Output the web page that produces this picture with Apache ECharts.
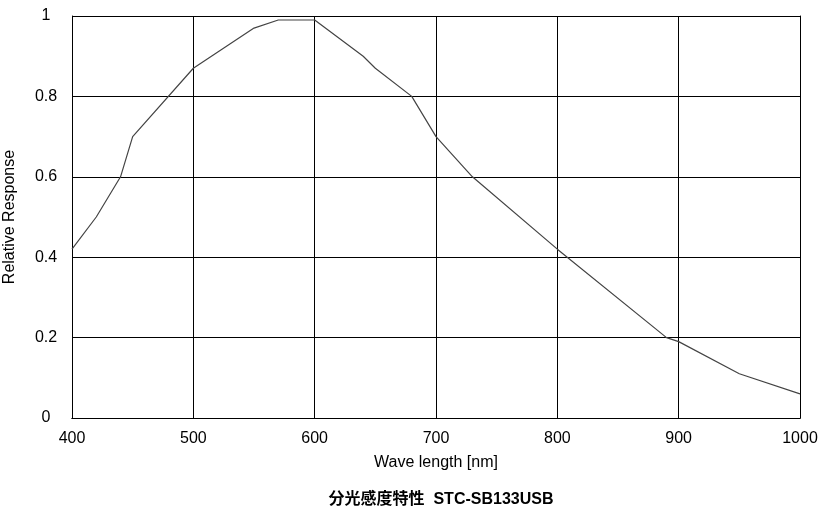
<!DOCTYPE html>
<html><head><meta charset="utf-8">
<script src="https://cdn.jsdelivr.net/npm/echarts@6/dist/echarts.min.js"></script>
<style>html,body{margin:0;padding:0;background:#fff}#c{width:831px;height:514px}</style>
</head><body><div id="c"></div>
<script>
const wavelengths = [400, 420, 440, 450, 500, 550, 570, 600, 640, 650, 680, 700, 730, 800, 890, 900, 950, 1000];
const response    = [0.42, 0.50, 0.60, 0.70, 0.87, 0.97, 0.99, 0.99, 0.90, 0.87, 0.80, 0.70, 0.60, 0.42, 0.20, 0.19, 0.11, 0.06];
const xTicks = [400, 500, 600, 700, 800, 900, 1000];
const yTicks = [0, 0.2, 0.4, 0.6, 0.8, 1];
const titleText = '分光感度特性  STC-SB133USB';
const xName = 'Wave length [nm]';
const yName = 'Relative Response';

const chart = echarts.init(document.getElementById('c'));
const font = 'Liberation Sans, Arial, sans-serif';
const boxAxis = { type: 'value', axisLine: { show: true, lineStyle: { color: '#000', width: 1 } },
  axisLabel: { show: false }, axisTick: { show: false }, splitLine: { show: false } };
chart.setOption({
  animation: false,
  backgroundColor: '#fff',
  title: {
    text: titleText, left: 436, top: 487, textAlign: 'center',
    textStyle: { fontFamily: 'Liberation Sans, Noto Sans CJK JP, sans-serif', fontSize: 16, fontWeight: 'bold', color: '#000' }
  },
  grid: { left: 72, right: 31, top: 16, bottom: 96, show: false, outerBoundsMode: 'none', containLabel: false },
  xAxis: [{
    type: 'value', min: xTicks[0], max: xTicks[xTicks.length - 1], interval: 100,
    name: xName, nameLocation: 'middle', nameGap: 37,
    nameTextStyle: { fontFamily: font, fontSize: 16, color: '#000' },
    axisLine: { show: true, lineStyle: { color: '#000', width: 1 } },
    axisTick: { show: false },
    axisLabel: { fontFamily: font, fontSize: 16, color: '#000', margin: 13, formatter: v => String(v) },
    splitLine: { show: true, lineStyle: { color: '#000', width: 1 } }
  }, Object.assign({ position: 'top', min: xTicks[0], max: xTicks[xTicks.length - 1] }, boxAxis)],
  yAxis: [{
    type: 'value', min: yTicks[0], max: yTicks[yTicks.length - 1], interval: 0.2,
    name: yName, nameLocation: 'middle', nameGap: 54,
    nameTextStyle: { fontFamily: font, fontSize: 16, color: '#000' },
    axisLine: { show: true, lineStyle: { color: '#000', width: 1 } },
    axisTick: { show: false },
    axisLabel: { fontFamily: font, fontSize: 16, color: '#000', margin: 26, align: 'center',
      formatter: v => String(Math.round(v * 10) / 10) },
    splitLine: { show: true, lineStyle: { color: '#000', width: 1 } }
  }, Object.assign({ position: 'right', min: yTicks[0], max: yTicks[yTicks.length - 1] }, boxAxis)],
  series: [{
    type: 'line', data: wavelengths.map((w, i) => [w, response[i]]),
    symbol: 'none', lineStyle: { color: '#444', width: 1.2 }, silent: true
  }]
});
</script>
</body></html>
